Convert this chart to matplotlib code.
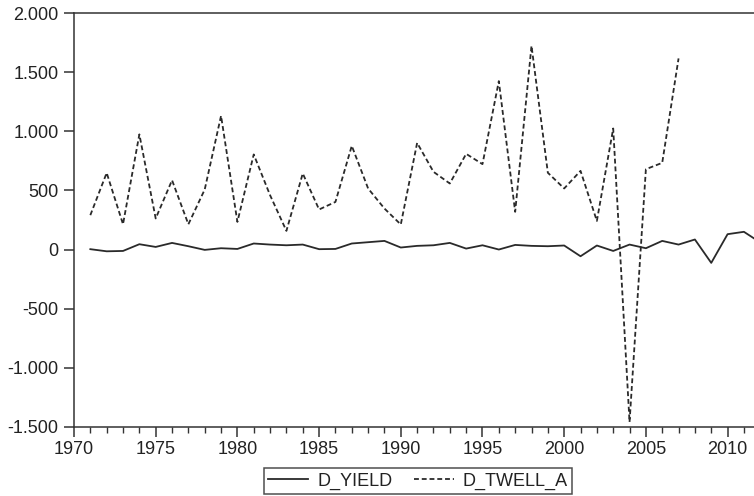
import matplotlib.pyplot as plt
from matplotlib.ticker import FuncFormatter, MultipleLocator

plt.rcParams["font.family"] = ["Liberation Sans", "DejaVu Sans"]

years_yield = list(range(1971, 2013))
d_yield = [3, -15, -12, 45, 22, 56, 28, -3, 11, 5,
           51, 42, 36, 42, 3, 5, 51, 62, 73, 17,
           31, 36, 56, 8, 36, 0, 39, 31, 28, 34,
           -57, 34, -12, 42, 11, 73, 42, 85, -113, 130,
           150, 60]

years_twell = list(range(1971, 2008))
d_twell_a = [291, 649, 214, 975, 263, 587, 214, 508, 1132, 234,
             805, 460, 158, 644, 339, 403, 878, 517, 347, 212,
             903, 658, 559, 810, 723, 1426, 319, 1725, 650, 517,
             666, 242, 1025, -1461, 680, 734, 1618]

W, H = 754, 496
fig = plt.figure(figsize=(W / 100, H / 100), dpi=100)
# axes runs a bit past the right edge of the figure
ax = fig.add_axes([74 / W, (H - 426.7) / H, 702.6 / W, 413.4 / H])

col = "#2a2a2a"
ax.plot(years_yield, d_yield, color=col, lw=1.3, label="D_YIELD")
ax.plot(years_twell, d_twell_a, color=col, lw=1.3, dashes=(2.7, 1.6),
        label="D_TWELL_A")

ax.set_xlim(1970, 2013)
ax.set_ylim(-1500, 2000)
ax.xaxis.set_major_locator(MultipleLocator(5))
ax.xaxis.set_minor_locator(MultipleLocator(1))
ax.yaxis.set_major_locator(MultipleLocator(500))


def thousands(v, pos):
    s = "{:,.0f}".format(abs(v)).replace(",", ".")
    return "-" + s if v < 0 else s


ax.yaxis.set_major_formatter(FuncFormatter(thousands))

for side in ["left", "bottom", "top", "right"]:
    ax.spines[side].set_color("#333333")
    ax.spines[side].set_linewidth(1.1)

ax.tick_params(axis="both", which="major", length=7, width=1.1,
               color="#333333", labelsize=13, labelcolor="#222222")
ax.tick_params(axis="x", which="minor", length=4, width=1.0, color="#333333")
ax.tick_params(axis="x", pad=3)
ax.tick_params(axis="y", pad=4)

leg = fig.legend(loc="lower center", bbox_to_anchor=(418 / W, 0.0), ncol=2,
                 fontsize=13, frameon=True, fancybox=False, handlelength=2.2,
                 handletextpad=0.5, columnspacing=1.2, borderpad=0.25,
                 borderaxespad=0.1)
leg.get_frame().set_edgecolor("#222222")
leg.get_frame().set_linewidth(1.1)
for t in leg.get_texts():
    t.set_color("#222222")

fig.savefig("out.png", dpi=100)
